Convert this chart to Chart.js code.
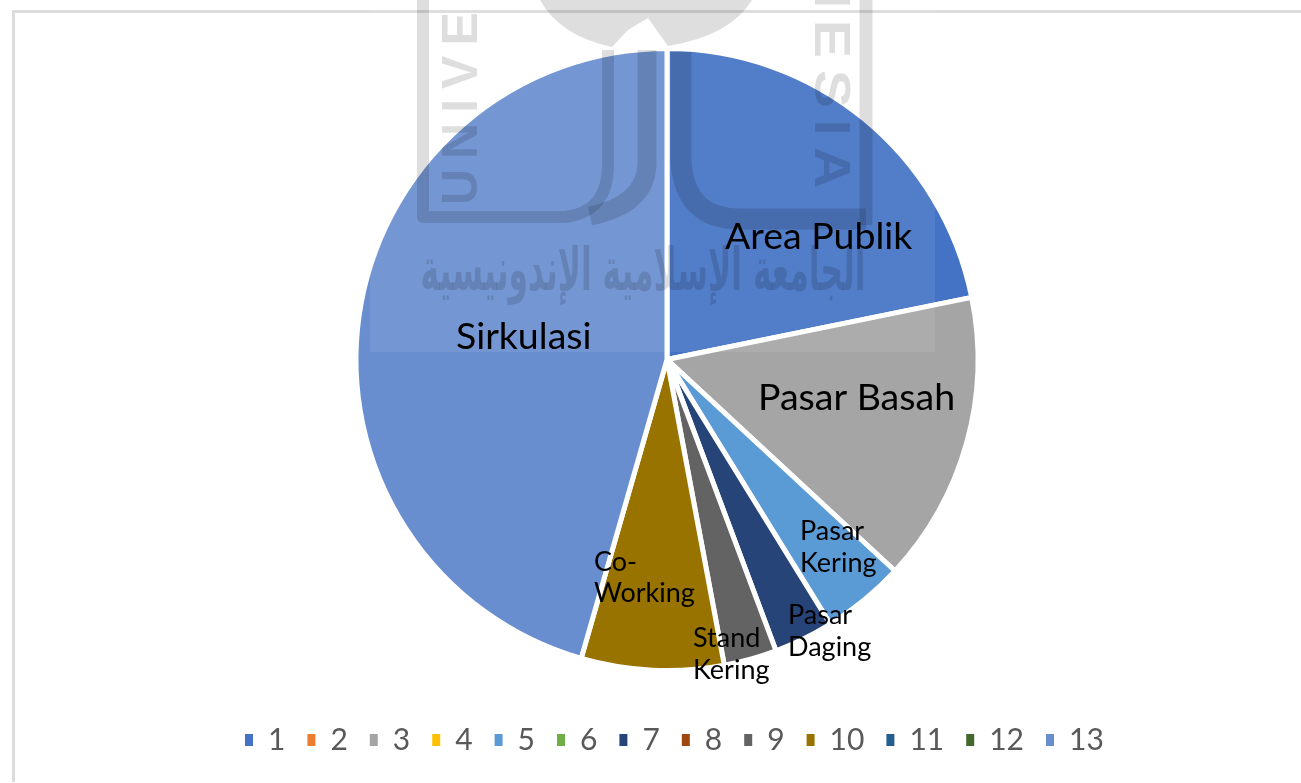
<!DOCTYPE html>
<html>
<head>
<meta charset="utf-8">
<title>Pie</title>
<script src="https://cdn.jsdelivr.net/npm/chart.js@4/dist/chart.umd.js"></script>
<style>
body { margin: 0; background: #fff; }
canvas { display: block; }
</style>
</head>
<body>
<canvas id="chart" width="1301" height="783"></canvas>
<script>
const categories = ['1', '2', '3', '4', '5', '6', '7', '8', '9', '10', '11', '12', '13'];
const values = [21.8, 0, 15.1, 0, 4.3, 0, 3.1, 0, 2.75, 7.4, 0, 0, 45.55];
const colors = ['#4472c4', '#ed7d31', '#a5a5a5', '#ffc000', '#5b9bd5', '#70ad47', '#264478', '#9e480e', '#636363', '#997300', '#255e91', '#43682b', '#698ed0'];
const sliceNames = ['Area Publik', 'Pasar Basah', 'Pasar Kering', 'Pasar Daging', 'Stand Kering', 'Co-Working', 'Sirkulasi'];

const watermark = {
    id: 'watermark',
    afterLayout(chart) {
        // legend sits right of the pie's centre, move the pie back
        chart.chartArea.left -= 20;
        chart.chartArea.right -= 20;
    },
    beforeDraw(chart) {
        const c = chart.ctx;
        // scan frame lines
        c.save();
        c.fillStyle = '#dcdcdc';
        c.fillRect(12, 10, 1289, 3);
        c.fillRect(12, 10, 3, 772);
        c.restore();
    },
    afterDatasetsDraw(chart) {
        const c = chart.ctx;
        c.save();
        c.textBaseline = 'alphabetic';
        c.fillStyle = 'rgba(255,255,255,0.08)';
        c.fillRect(370, 0, 565, 352);

        const ink = 'rgba(0,0,0,0.13)';
        c.strokeStyle = ink;
        c.fillStyle = ink;
        c.lineJoin = 'round';

        // logo frame and the two strokes in the middle
        c.lineWidth = 12;
        c.beginPath();
        c.moveTo(423, 0);
        c.lineTo(423, 217);
        c.lineTo(565, 217);
        c.quadraticCurveTo(608, 212, 608, 165);
        c.lineTo(608, 50);
        c.stroke();

        c.lineWidth = 19;
        c.beginPath();
        c.moveTo(647, 50);
        c.lineTo(647, 165);
        c.quadraticCurveTo(645, 205, 590, 216);
        c.stroke();

        c.lineWidth = 21;
        c.beginPath();
        c.moveTo(681, 52);
        c.lineTo(681, 160);
        c.quadraticCurveTo(684, 219, 740, 219);
        c.lineTo(866, 219);
        c.stroke();
        c.lineWidth = 13;
        c.beginPath();
        c.moveTo(866, 225);
        c.lineTo(866, 0);
        c.stroke();

        // dome at the top of the logo
        c.beginPath();
        c.moveTo(540, 0);
        c.quadraticCurveTo(560, 36, 612, 47);
        c.lineTo(628, 30);
        c.lineTo(648, 18);
        c.lineTo(668, 46);
        c.quadraticCurveTo(730, 36, 752, 0);
        c.closePath();
        c.fill();

        // the university's name, running along the frame
        c.font = 'bold 50px "Liberation Sans"';
        c.letterSpacing = '10px';
        c.save();
        c.translate(477, 205);
        c.rotate(-Math.PI / 2);
        c.textAlign = 'left';
        c.fillText('UNIVERSITAS', 0, 0);
        c.restore();
        c.save();
        c.translate(815, 200);
        c.rotate(Math.PI / 2);
        c.scale(1.15, 1);
        c.textAlign = 'right';
        c.fillText('INDONESIA', 0, 0);
        c.restore();
        c.letterSpacing = '0px';

        c.font = 'bold 52px "DejaVu Sans"';
        c.direction = 'rtl';
        c.textAlign = 'center';
        const arabic = 'الجامعة الإسلامية الإندونيسية';
        const w = c.measureText(arabic).width;
        c.save();
        c.translate(643, 290);
        c.scale(445 / w, 1.15);
        c.fillText(arabic, 0, 0);
        c.restore();
        c.restore();

        // slice names
        c.save();
        c.fillStyle = '#000';
        c.textAlign = 'left';
        c.textBaseline = 'alphabetic';
        c.font = '37.5px Lato';
        c.fillText(sliceNames[0], 725, 249);
        c.fillText(sliceNames[1], 758, 410);
        c.fillText(sliceNames[6], 456, 349);
        c.font = '27px Lato';
        c.fillText('Pasar', 800, 540);
        c.fillText('Kering', 800, 572);
        c.fillText('Pasar', 788, 624);
        c.fillText('Daging', 788, 656);
        c.fillText('Stand', 693, 647);
        c.fillText('Kering', 693, 679);
        c.fillText('Co-', 594, 571);
        c.fillText('Working', 594, 602);
        c.restore();
    }
};

new Chart(document.getElementById('chart'), {
    type: 'pie',
    data: {
        labels: categories,
        datasets: [{
            data: values,
            backgroundColor: colors,
            borderColor: '#fff',
            borderWidth: 5
        }]
    },
    options: {
        responsive: false,
        animation: false,
        radius: 311,
        layout: { padding: { left: 223, right: 150, top: 16, bottom: 18 } },
        plugins: {
            tooltip: { enabled: false },
            legend: {
                position: 'bottom',
                align: 'start',
                labels: {
                    boxWidth: 8,
                    boxHeight: 12,
                    padding: 22,
                    color: '#595959',
                    font: { family: 'Lato', size: 30 },
                    generateLabels: chart => Chart.overrides.doughnut.plugins.legend.labels.generateLabels(chart)
                        .map(item => ({ ...item, lineWidth: 0 }))
                }
            }
        }
    },
    plugins: [watermark]
});
</script>
</body>
</html>
